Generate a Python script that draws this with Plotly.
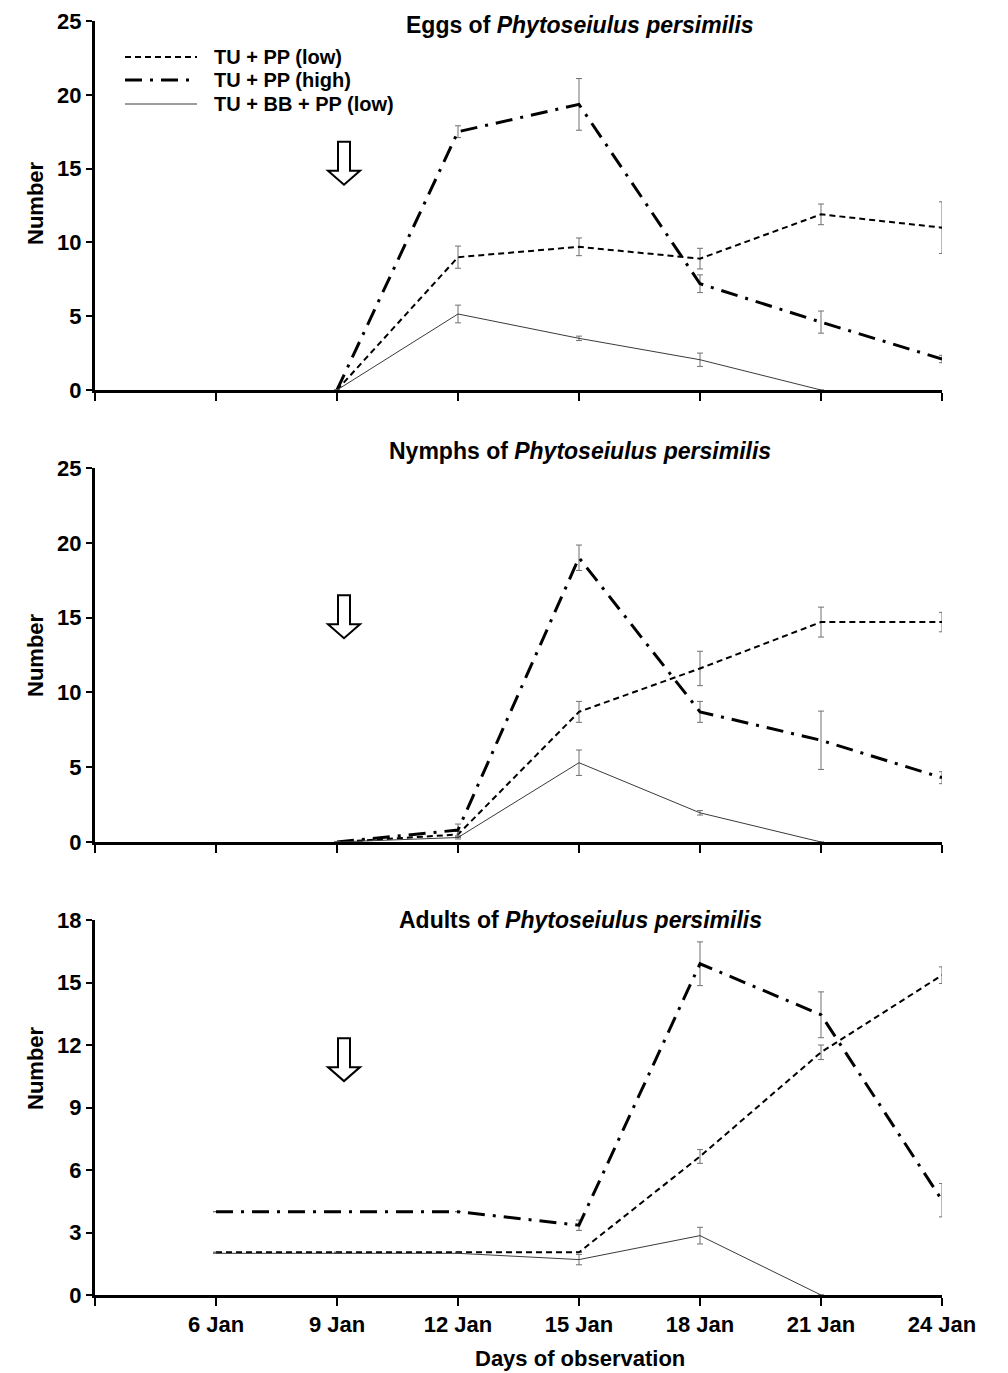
import plotly.graph_objects as go

days = ["", "6 Jan", "9 Jan", "12 Jan", "15 Jan", "18 Jan", "21 Jan", "24 Jan"]
series_names = ["TU + PP (low)", "TU + PP (high)", "TU + BB + PP (low)"]

# Eggs (positions: 2 = 9 Jan ... 7 = 24 Jan)
eggs_x_low = [2, 3, 4, 5, 6, 7]
eggs_low = [0, 9.0, 9.7, 8.9, 11.9, 11.0]
eggs_low_err = [0, 0.75, 0.6, 0.7, 0.7, 1.75]
eggs_x_high = [2, 3, 4, 5, 6, 7]
eggs_high = [0, 17.5, 19.35, 7.2, 4.6, 2.1]
eggs_high_err = [0, 0.4, 1.75, 0.6, 0.75, 0.25]
eggs_x_bb = [2, 3, 4, 5, 6]
eggs_bb = [0, 5.15, 3.5, 2.05, 0]
eggs_bb_err = [0, 0.6, 0.15, 0.45, 0]

# Nymphs
nym_x_low = [2, 3, 4, 5, 6, 7]
nym_low = [0, 0.5, 8.7, 11.6, 14.7, 14.7]
nym_low_err = [0, 0.2, 0.7, 1.15, 1.0, 0.65]
nym_x_high = [2, 3, 4, 5, 6, 7]
nym_high = [0, 0.8, 19.0, 8.7, 6.8, 4.3]
nym_high_err = [0, 0.4, 0.85, 0.7, 1.95, 0.4]
nym_x_bb = [2, 3, 4, 5, 6]
nym_bb = [0, 0.3, 5.3, 1.95, 0]
nym_bb_err = [0, 0.1, 0.85, 0.15, 0]

# Adults (positions: 1 = 6 Jan ... 7 = 24 Jan)
ad_x_low = [1, 2, 3, 4, 5, 6, 7]
ad_low = [2.05, 2.05, 2.05, 2.05, 6.65, 11.65, 15.35]
ad_low_err = [0, 0, 0, 0, 0.33, 0.35, 0.4]
ad_x_high = [1, 2, 3, 4, 5, 6, 7]
ad_high = [4.0, 4.0, 4.0, 3.35, 15.9, 13.45, 4.55]
ad_high_err = [0, 0, 0, 0.25, 1.05, 1.1, 0.8]
ad_x_bb = [1, 2, 3, 4, 5, 6]
ad_bb = [2.0, 2.0, 2.0, 1.7, 2.85, 0]
ad_bb_err = [0, 0, 0, 0.25, 0.4, 0]

panels = [
    ("Eggs of <i>Phytoseiulus persimilis</i>",
     (eggs_x_low, eggs_low, eggs_low_err), (eggs_x_high, eggs_high, eggs_high_err), (eggs_x_bb, eggs_bb, eggs_bb_err), 25, 5),
    ("Nymphs of <i>Phytoseiulus persimilis</i>",
     (nym_x_low, nym_low, nym_low_err), (nym_x_high, nym_high, nym_high_err), (nym_x_bb, nym_bb, nym_bb_err), 25, 5),
    ("Adults of <i>Phytoseiulus persimilis</i>",
     (ad_x_low, ad_low, ad_low_err), (ad_x_high, ad_high, ad_high_err), (ad_x_bb, ad_bb, ad_bb_err), 18, 3),
]

OFF = 8  # page body margin
W, H = 1000, 1365
L_PX, R_PX, T_PX, B_PX = 95, 942, 21, 1295  # reference pixel extents of plot area
ML, MR, MT, MB = L_PX - OFF, W - (R_PX - OFF), T_PX - OFF, H - (B_PX - OFF)
PW = W - ML - MR
PH = H - MT - MB

def px_x(rx):
    return (rx - L_PX) / PW

def px_y(ry):
    return (B_PX - ry) / PH

panel_px = [(21, 390), (468, 842), (920, 1295)]
title_px = [25, 451, 920]
label_px = [203, 655, 1068]

FONT = "Liberation Sans, Arial, sans-serif"
styles = [
    dict(color="black", width=2, dash="6px,4px"),
    dict(color="black", width=3, dash="17px,8px,3px,8px"),
    dict(color="#3a3a3a", width=1, dash="solid"),
]

fig = go.Figure()
layout = dict()
annotations = []
shapes = []
arrow_tops = [0.673, 0.660, 0.685]

for i, (title, s_low, s_high, s_bb, ymax, dt) in enumerate(panels):
    ax = "" if i == 0 else str(i + 1)
    for j, (xs, ys, es) in enumerate([s_low, s_high, s_bb]):
        fig.add_trace(go.Scatter(
            x=xs, y=ys, mode="lines", name=series_names[j],
            line=styles[j], showlegend=False,
            error_y=dict(type="data", array=es, visible=True, color="#707070", thickness=1, width=3),
            xaxis="x" + ax, yaxis="y" + ax,
        ))
    top, bot = panel_px[i]
    layout["xaxis" + ax] = dict(
        domain=[0, 1], anchor="y" + ax, range=[0, 7], tickmode="array",
        tickvals=list(range(8)), ticktext=days, showticklabels=(i == 2),
        ticks="outside", ticklen=8, tickwidth=2, tickcolor="black",
        showline=True, linewidth=3, linecolor="black", showgrid=False, zeroline=False,
        tickfont=dict(family=FONT, size=22, color="black", weight="bold"),
        ticklabelstandoff=0, ticklabeloverflow="allow", automargin=False, fixedrange=True,
    )
    layout["yaxis" + ax] = dict(
        domain=[px_y(bot), px_y(top)], anchor="x" + ax, range=[0, ymax], dtick=dt,
        ticks="outside", ticklen=6, tickwidth=2, tickcolor="black",
        showline=True, linewidth=3, linecolor="black", showgrid=False, zeroline=False,
        tickfont=dict(family=FONT, size=22, color="black", weight="bold"),
        ticklabeloverflow="allow", automargin=False, fixedrange=True,
    )
    annotations.append(dict(
        text="<b>" + title + "</b>", x=px_x(580), y=px_y(title_px[i]),
        xref="paper", yref="paper", showarrow=False, xanchor="center", yanchor="middle",
        font=dict(family=FONT, size=23, color="black"),
    ))
    annotations.append(dict(
        text="<b>Number</b>", x=px_x(35), y=px_y(label_px[i]),
        xref="paper", yref="paper", showarrow=False, xanchor="center", yanchor="middle",
        textangle=-90, font=dict(family=FONT, size=22, color="black"),
    ))
    # hollow downward arrow (drawn in axis-domain fractions)
    cx = px_x(344)
    sw, hw = 6 / PW, 16 / PW
    ph = bot - top
    t = arrow_tops[i]
    sb = t - 29 / ph
    tip = t - 43 / ph
    xr = "x" + ax + " domain"
    yr = "y" + ax + " domain"
    path = (f"M {cx - sw} {t} L {cx + sw} {t} L {cx + sw} {sb} L {cx + hw} {sb} "
            f"L {cx} {tip} L {cx - hw} {sb} L {cx - sw} {sb} Z")
    shapes.append(dict(type="path", path=path, xref=xr, yref=yr,
                       line=dict(color="black", width=2), fillcolor="white"))

# legend drawn in the upper-left of the first panel
legend_rows = [57, 80, 104]
for j, ry in enumerate(legend_rows):
    st = styles[j]
    shapes.append(dict(type="line", xref="paper", yref="paper",
                       x0=px_x(125), x1=px_x(197), y0=px_y(ry), y1=px_y(ry),
                       line=dict(color=st["color"], width=st["width"], dash=st["dash"])))
    annotations.append(dict(
        text="<b>" + series_names[j] + "</b>", x=px_x(212), y=px_y(ry),
        xref="paper", yref="paper", showarrow=False, xanchor="left", yanchor="middle",
        font=dict(family=FONT, size=20, color="black"),
    ))

annotations.append(dict(
    text="<b>Days of observation</b>", x=px_x(580), y=px_y(1358),
    xref="paper", yref="paper", showarrow=False, xanchor="center", yanchor="middle",
    font=dict(family=FONT, size=22, color="black"),
))

fig.update_layout(
    width=W, height=H, margin=dict(l=ML, r=MR, t=MT, b=MB, autoexpand=False),
    paper_bgcolor="white", plot_bgcolor="white",
    annotations=annotations, shapes=shapes, showlegend=False,
    **layout,
)

fig.write_html("out.html")
